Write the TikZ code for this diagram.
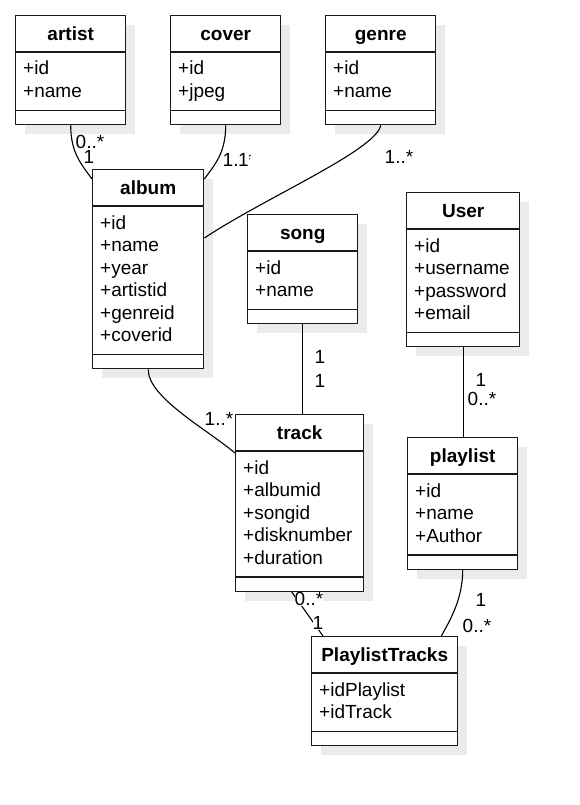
\documentclass[tikz,border=0pt]{standalone}
\usepackage{fontspec}
\setmainfont{Liberation Sans}
\usetikzlibrary{calc}
\definecolor{umlline}{HTML}{1A1A1A}
\definecolor{umlshadow}{HTML}{EBEBEB}

\newcommand{\umlfont}{\fontsize{19}{22.5}\selectfont}

% #1 name, #2 left, #3 top, #4 width, #5 rows, #6 title, #7 attributes
\newcommand{\umlclass}[7]{%
  \pgfmathsetmacro{\clh}{64+22.5*#5}
  \fill[umlshadow] (#2+10,#3+10) rectangle ++(#4,\clh);
  \node[classbox, minimum width=#4pt, minimum height=\clh pt] (#1) at (#2,#3) {};
  \draw[divider] ($(#1.north west)+(0,37)$) -- ($(#1.north east)+(0,37)$);
  \draw[divider] ($(#1.south west)+(0,-15)$) -- ($(#1.south east)+(0,-15)$);
  \node[classname] (#1-name) at ($(#1.north)+(0,25.5)$) {#6};
  \foreach \a [count=\i] in {#7}
    \node[attr] (#1-a\i) at ($(#1.north west)+(8,{37+23+(\i-1)*22.5})$) {+\a};
}

\begin{document}
\begin{tikzpicture}[
    x=1pt, y=-1pt,
    classbox/.style={draw=umlline, line width=1.4pt, fill=white, inner sep=0pt, anchor=north west},
    divider/.style={umlline, line width=1.4pt},
    classname/.style={font=\bfseries\umlfont, anchor=base, inner sep=0pt},
    attr/.style={font=\umlfont, anchor=base west, inner sep=0pt},
    mult/.style={font=\umlfont, inner sep=0pt, fill=white},
    assoc/.style={line width=1.1pt, black}
  ]
  \useasboundingbox (0,0) rectangle (579,805);

  % classes
  \umlclass{artist}{15}{15}{110}{2}{artist}{id,name}
  \umlclass{cover}{170}{15}{110}{2}{cover}{id,jpeg}
  \umlclass{genre}{325}{15}{110}{2}{genre}{id,name}
  \umlclass{album}{92}{169}{111}{6}{album}{id,name,year,artistid,genreid,coverid}
  \umlclass{song}{247}{214}{110}{2}{song}{id,name}
  \umlclass{user}{406}{192}{113}{4}{User}{id,username,password,email}
  \umlclass{track}{235}{414}{128}{5}{track}{id,albumid,songid,disknumber,duration}
  \umlclass{playlist}{407}{437}{110}{3}{playlist}{id,name,Author}
  \umlclass{pltracks}{311}{636}{146}{2}{PlaylistTracks}{idPlaylist,idTrack}

  % associations
  \draw[assoc] (artist.south) .. controls +(0,28) and +(-10,-14) .. ($(album.north west)+(0,10)$);
  \draw[assoc] (cover.south) .. controls +(0,28) and +(10,-14) .. ($(album.north east)+(0,10)$);
  \draw[assoc] (genre.south) .. controls +(-5,25) and +(60,-40) .. ($(album.north east)+(0,69)$);
  \draw[assoc] (album.south) .. controls +(0,28) and +(-30,-25) .. ($(track.north west)+(0,39)$);
  \draw[assoc] (song.south) -- (song.south |- track.north);
  \draw[assoc] (user.south) -- (user.south |- playlist.north);
  \draw[assoc] ($(track.south)+(-8,0)$) -- ($(pltracks.north west)+(12,0)$);
  \draw[assoc] (playlist.south) .. controls +(0,30) and +(8,-15) .. ($(pltracks.north east)+(-17,0)$);

  % multiplicities
  \node[mult] (m-artist1) at (90,142) {0..*};
  \node[mult] (m-artist2) at (89,157) {1};
  \node[mult, anchor=west] (m-cover1) at (222.5,160) {1..*};
  \node[mult] (m-cover2) at (243.5,160) {1};
  \node[mult] (m-genre) at (399,157) {1..*};
  \node[mult] (m-song1) at (320,357) {1};
  \node[mult] (m-song2) at (320,381) {1};
  \node[mult] (m-album) at (219,419) {1..*};
  \node[mult] (m-user1) at (481,380) {1};
  \node[mult] (m-user2) at (482,399) {0..*};
  \node[mult] (m-track1) at (309,599) {0..*};
  \node[mult] (m-track2) at (318,623) {1};
  \node[mult] (m-playlist1) at (481,600) {1};
  \node[mult] (m-playlist2) at (477,626) {0..*};
\end{tikzpicture}
\end{document}
